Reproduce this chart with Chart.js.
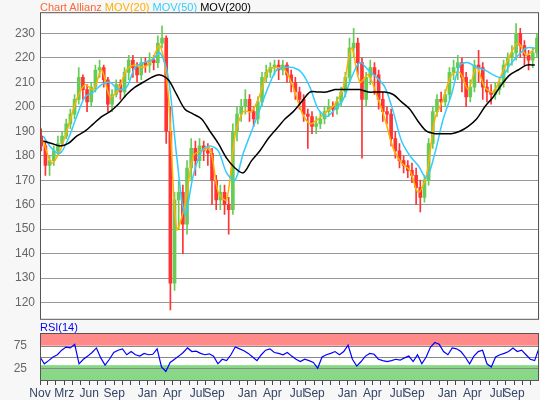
<!DOCTYPE html>
<html>
<head>
<meta charset="utf-8">
<script src="https://cdn.jsdelivr.net/npm/chart.js@4"></script>
<style>
  body { margin: 0; background: #f7f7f7; font-family: "Liberation Sans", Arial, sans-serif; }
  #wrap { position: relative; width: 540px; height: 400px; overflow: hidden; }
  #main { position: absolute; left: 0; top: 0; }
  #rsi { position: absolute; left: 0; top: 320px; }
  .lbl { position: absolute; font-size: 11px; white-space: nowrap; }
</style>
</head>
<body>
<div id="wrap">
  <canvas id="main" width="540" height="332"></canvas>
  <canvas id="rsi" width="540" height="80"></canvas>
  <div class="lbl" style="left:40px;top:1px">
    <span style="color:#ff6633">Chart Allianz</span>
    <span style="color:#ffb000">MOV(20)</span>
    <span style="color:#33ccff">MOV(50)</span>
    <span style="color:#000">MOV(200)</span>
  </div>
  <div class="lbl" style="left:40px;top:321px;color:#0000ff">RSI(14)</div>
</div>
<script>
// candles, half-month steps starting at month -0.75 (month 0 = Jan of first year)
const kursClose = [184,176,178,182,185,188,193,197,203,212, 207,202,208,215,216,211,201,205,209,206,
  214,219,216,213,218,217,219,218,226,228, 190,128,162,165,152,175,183,178,184,182,
  181,170,162,165,160,158,190,197,200,203, 198,195,202,212,214,216,217,215,217,213,
  210,206,203,197,196,192,193,195,198,200, 199,202,206,212,224,226,218,203,212,216,
  213,203,198,197,187,182,178,176,174,172, 167,163,170,185,198,203,202,205,214,216,
  218,212,204,208,217,216,208,206,205,207, 210,217,220,222,230,225,221,219,222,228];
const kursOpen = [188,184,176,178,182,185,188,193,197,203, 212,207,202,208,215,216,211,201,205,209,
  206,214,219,216,213,218,217,219,218,226, 228,190,128,162,165,152,175,183,178,184,
  182,181,170,162,165,160,158,190,197,200, 203,198,195,202,212,214,216,217,215,217,
  213,210,206,203,197,196,192,193,195,198, 200,199,202,206,212,224,226,218,203,212,
  216,213,203,198,197,187,182,178,176,174, 172,167,163,170,185,198,203,202,205,214,
  216,218,212,204,208,217,216,208,206,205, 207,210,217,220,222,230,225,221,219,222];
const kursHigh = [191,186,180,184,188,190,195,199,205,216, 213,209,210,217,219,217,212,207,211,211,
  216,221,221,218,220,220,222,221,229,233, 229,200,165,170,168,178,187,186,187,186,
  185,183,172,168,168,163,193,200,203,207, 205,200,204,214,217,218,219,219,219,218,
  215,212,208,205,199,198,196,198,200,203, 202,204,208,214,228,232,228,220,214,219,
  218,215,206,200,199,190,185,180,178,177, 175,170,172,187,200,205,206,207,216,219,
  221,220,214,211,219,223,218,211,209,210, 212,219,222,225,234,232,227,223,224,230];
const kursLow = [182,172,172,176,180,184,187,191,195,201, 203,198,200,206,212,208,198,198,204,203,
  204,211,212,210,211,214,214,215,216,224, 185,117,125,150,140,148,170,172,175,178,
  176,160,158,158,156,148,156,186,194,197, 194,192,193,200,210,212,213,211,213,210,
  206,203,199,194,183,189,189,191,193,196, 196,197,200,204,210,220,213,179,200,209,
  205,199,194,193,184,179,175,173,171,169, 160,157,161,168,183,196,198,200,203,211,
  211,206,200,202,206,210,203,202,201,203, 205,208,214,217,219,220,217,215,216,220];

// moving averages, monthly steps starting at month -0.5
const mov20 = [186,177,182,192,203,209,207,215,204,207,215,217,216,219,225,205,150,160,180,182,
  183,165,162,188,198,198,205,215,216,215,208,198,193,195,198,201,208,224,210,213,
  205,195,183,177,174,165,172,195,203,213,214,207,216,208,206,213,221,226,221,224];
const mov50 = [188,183,181,187,196,204,206,209,210,207,208,216,218,219,222,212,180,156,172,182,
  184,182,173,170,181,190,199,208,215,216,216,214,208,199,196,199,203,212,218,215,
  212,208,198,186,180,176,171,181,195,205,217,218,216,215,213,212,217,221,224,224];
const mov200 = [186,185,184,185,188,190,193,196,198,201,205,208,210,212,213,211,205,199,197,195,
  190,185,179,175,173,178,182,187,191,195,198,202,206,206,206,207,207,207,207,206,
  206,206,205,202,199,194,190,189,189,189,190,192,195,200,204,209,213,215,217,217];

// RSI(14), evenly over the whole range
const rsiWerte = [50,35,42,50,55,65,72,70,78,35, 45,52,60,70,48,32,45,60,65,68,
  55,62,55,52,58,55,56,68,28,18, 38,45,52,60,70,62,63,58,55,57,
  52,35,45,42,55,72,68,64,58,50, 42,55,65,68,60,58,55,60,52,45,
  40,45,42,38,25,50,55,58,62,55, 62,76,45,30,40,52,58,56,45,42,
  40,42,45,43,48,52,40,55,35,50, 72,82,78,62,55,70,68,62,50,35,
  52,62,65,35,28,50,55,58,62,70, 62,65,55,45,42,70];

// labelled months on the time axis (month index -> name)
const monatsLabels = {2:'Mrz',5:'Jun',8:'Sep',12:'Jan',15:'Apr',18:'Jul',20:'Sep',24:'Jan',27:'Apr',30:'Jul',32:'Sep',
  36:'Jan',39:'Apr',42:'Jul',44:'Sep',48:'Jan',51:'Apr',54:'Jul',56:'Sep'};

const xMin = -0.9, xMax = 59.0;
const gruen = '#66cc55', rot = '#ff3333';

const kerzenX = kursClose.map((c, i) => -0.75 + 0.5 * i);
const farben = kursClose.map((c, i) => c >= kursOpen[i] ? gruen : rot);
const dochte = kursClose.map((c, i) => ({ x: kerzenX[i], y: [kursLow[i], kursHigh[i]] }));
const koerper = kursClose.map((c, i) => ({ x: kerzenX[i], y: [kursOpen[i], c === kursOpen[i] ? c + 0.4 : c] }));
const maPunkte = arr => arr.map((v, i) => ({ x: i - 0.5, y: v }));

// weisser Plotbereich mit Rahmen
const rahmen = {
  id: 'rahmen',
  beforeDraw(chart) {
    const a = chart.chartArea, ctx = chart.ctx;
    ctx.save();
    ctx.fillStyle = '#ffffff';
    ctx.fillRect(a.left, a.top, a.right - a.left, a.bottom - a.top);
    ctx.restore();
  },
  afterDraw(chart) {
    const a = chart.chartArea, ctx = chart.ctx;
    ctx.save();
    ctx.strokeStyle = '#555';
    ctx.lineWidth = 1;
    ctx.strokeRect(a.left + 0.5, a.top + 0.5, a.right - a.left - 1, a.bottom - a.top - 1);
    ctx.restore();
  }
};

new Chart(document.getElementById('main'), {
  type: 'bar',
  data: {
    datasets: [
      { type: 'line', data: maPunkte(mov200), borderColor: '#000', borderWidth: 1.5, pointRadius: 0, tension: 0.3, order: 0 },
      { type: 'line', data: maPunkte(mov50), borderColor: '#33ccff', borderWidth: 1.5, pointRadius: 0, tension: 0.3, order: 1 },
      { type: 'line', data: maPunkte(mov20), borderColor: '#ffb000', borderWidth: 1.5, pointRadius: 0, tension: 0.3, order: 2 },
      { data: koerper, backgroundColor: farben, barThickness: 3, grouped: false, order: 3 },
      { data: dochte, backgroundColor: farben, barThickness: 1, grouped: false, order: 4 }
    ]
  },
  options: {
    responsive: false, animation: false,
    layout: { padding: { top: 12, right: 1, bottom: 1, left: 0 } },
    plugins: { legend: { display: false }, tooltip: { enabled: false } },
    scales: {
      x: { type: 'linear', min: xMin, max: xMax, offset: false, display: false },
      y: {
        min: 113, max: 238.6,
        afterBuildTicks: ax => { ax.ticks = [120,130,140,150,160,170,180,190,200,210,220,230].map(v => ({ value: v })); },
        afterFit: ax => { ax.width = 40; },
        grid: { color: '#999', drawTicks: false, lineWidth: 1 },
        border: { display: false },
        ticks: { color: '#666', font: { size: 12, family: 'Liberation Sans' }, padding: 5 }
      }
    }
  },
  plugins: [rahmen]
});

// RSI Baender (ueberkauft / ueberverkauft)
const baender = {
  id: 'baender',
  beforeDatasetsDraw(chart) {
    const a = chart.chartArea, ctx = chart.ctx, y = chart.scales.y;
    ctx.save();
    ctx.fillStyle = '#ff8a8a';
    ctx.fillRect(a.left, y.getPixelForValue(103), a.right - a.left, y.getPixelForValue(75) - y.getPixelForValue(103));
    ctx.fillStyle = '#88d888';
    ctx.fillRect(a.left, y.getPixelForValue(32), a.right - a.left, y.getPixelForValue(-1) - y.getPixelForValue(32));
    ctx.strokeStyle = '#888';
    [75, 50, 25].forEach(v => {
      const p = Math.round(y.getPixelForValue(v)) + 0.5;
      ctx.beginPath(); ctx.moveTo(a.left, p); ctx.lineTo(a.right, p); ctx.stroke();
    });
    ctx.restore();
  }
};

const rsiSchritt = (xMax - xMin) / (rsiWerte.length - 1);
new Chart(document.getElementById('rsi'), {
  type: 'line',
  data: {
    datasets: [{ data: rsiWerte.map((v, i) => ({ x: xMin + rsiSchritt * i, y: v })), borderColor: '#0000ff', borderWidth: 1.2, pointRadius: 0 }]
  },
  options: {
    responsive: false, animation: false,
    layout: { padding: { top: 13, right: 1, bottom: 0, left: 0 } },
    plugins: { legend: { display: false }, tooltip: { enabled: false } },
    scales: {
      x: {
        type: 'linear', min: xMin, max: xMax,
        afterBuildTicks: ax => {
          const t = [{ value: xMin }];
          for (let m = 0; m <= 58; m++) t.push({ value: m });
          ax.ticks = t;
        },
        afterFit: ax => { ax.height = 19; },
        grid: { drawOnChartArea: false, drawTicks: true, tickLength: 4, color: '#445' },
        border: { display: false },
        ticks: {
          autoSkip: false, maxRotation: 0, padding: 1,
          color: '#334466', font: { size: 12, family: 'Liberation Sans' },
          callback: v => v === xMin ? 'Nov' : (monatsLabels[v] || '')
        }
      },
      y: {
        min: -3, max: 103,
        afterBuildTicks: ax => { ax.ticks = [{ value: 25 }, { value: 75 }]; },
        afterFit: ax => { ax.width = 40; },
        grid: { display: false },
        border: { display: false },
        ticks: { color: '#666', font: { size: 12, family: 'Liberation Sans' }, padding: 5 }
      }
    }
  },
  plugins: [baender, rahmen]
});
</script>
</body>
</html>
